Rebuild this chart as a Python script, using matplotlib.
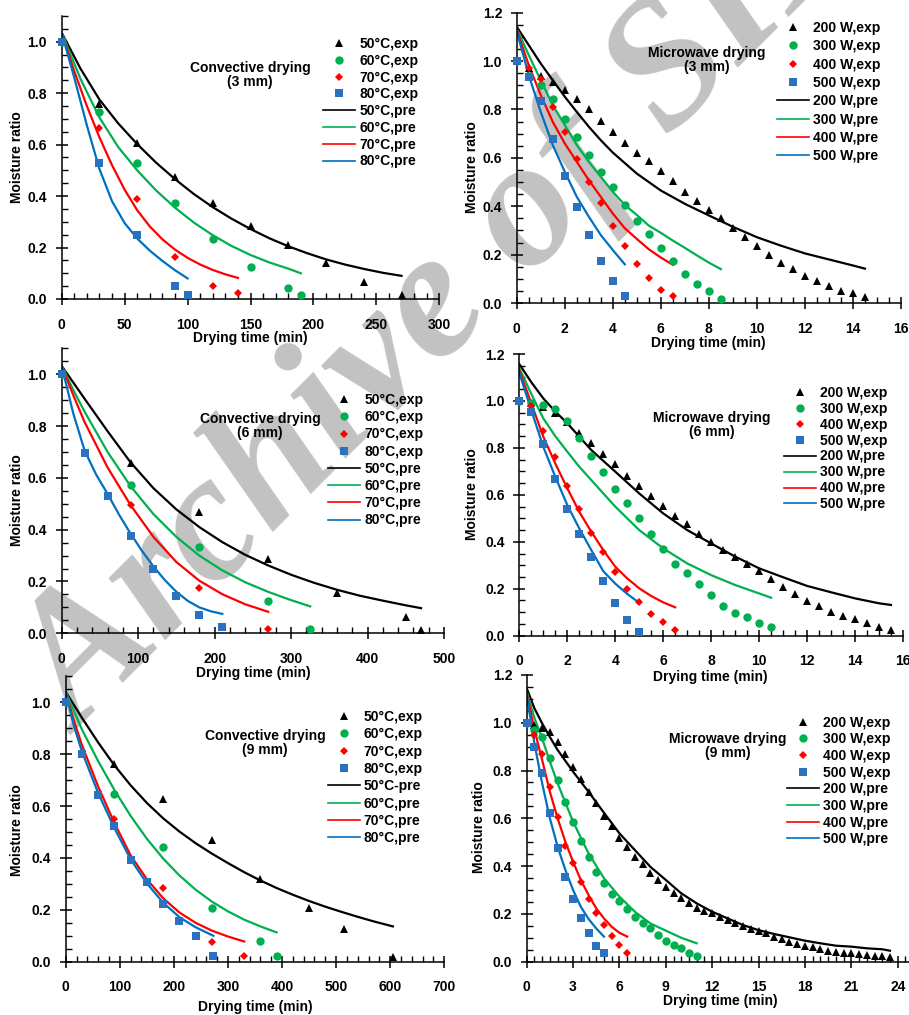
import matplotlib
matplotlib.use("Agg")
import matplotlib.pyplot as plt
from matplotlib.lines import Line2D
from matplotlib.ticker import MultipleLocator, FormatStrFormatter

plt.rcParams['font.family'] = ['Liberation Sans', 'DejaVu Sans']
plt.rcParams['font.weight'] = 'bold'
plt.rcParams['font.size'] = 10

W, H = 909, 1015
BLACK = 'black'
GREEN = '#00b050'
RED = '#ff0000'
BLUE = '#0070c0'
SQ_BLUE = '#2a72c0'

# ---------------- convective drying, 3 mm ----------------
c3_t50 = [0, 30, 60, 90, 120, 150, 180, 210, 240, 270]
c3_e50 = [1.0, 0.757, 0.605, 0.473, 0.373, 0.282, 0.208, 0.14, 0.065, 0.017]
c3_t60 = [0, 30, 60, 90, 120, 150, 180, 190]
c3_e60 = [1.0, 0.726, 0.528, 0.374, 0.233, 0.123, 0.041, 0.016]
c3_t70 = [0, 30, 60, 90, 120, 140]
c3_e70 = [1.0, 0.664, 0.388, 0.162, 0.049, 0.023]
c3_t80 = [0, 30, 60, 90, 100]
c3_e80 = [1.0, 0.53, 0.248, 0.052, 0.016]

c3_pt50 = [0, 15, 30, 45, 60, 75, 90, 105, 120, 135, 150, 165, 180, 195, 210, 225, 240,
           255, 270]
c3_p50 = [1.035, 0.895, 0.775, 0.682, 0.602, 0.53, 0.466, 0.408, 0.357, 0.312, 0.272,
          0.236, 0.205, 0.178, 0.154, 0.134, 0.117, 0.102, 0.09]
c3_pt60 = [0, 15, 30, 45, 60, 75, 90, 105, 120, 135, 150, 165, 180, 190]
c3_p60 = [1.035, 0.855, 0.705, 0.59, 0.50, 0.422, 0.355, 0.297, 0.248, 0.206, 0.171,
          0.142, 0.118, 0.1]
c3_pt70 = [0, 10, 20, 30, 40, 50, 60, 70, 80, 90, 100, 110, 120, 130, 140]
c3_p70 = [1.035, 0.885, 0.75, 0.628, 0.52, 0.425, 0.345, 0.282, 0.232, 0.192, 0.16, 0.134,
          0.113, 0.096, 0.082]
c3_pt80 = [0, 10, 20, 30, 40, 50, 60, 70, 80, 90, 100]
c3_p80 = [1.035, 0.86, 0.675, 0.505, 0.38, 0.295, 0.235, 0.188, 0.148, 0.112, 0.08]

# ---------------- microwave drying, 3 mm ----------------
m3_t200 = [0, 0.5, 1, 1.5, 2, 2.5, 3, 3.5, 4, 4.5, 5, 5.5, 6, 6.5, 7, 7.5, 8, 8.5, 9, 9.5,
           10, 10.5, 11, 11.5, 12, 12.5, 13, 13.5, 14, 14.5]
m3_e200 = [1.0, 0.97, 0.938, 0.914, 0.881, 0.842, 0.801, 0.754, 0.706, 0.663, 0.622, 0.585,
           0.544, 0.505, 0.458, 0.422, 0.385, 0.35, 0.308, 0.271, 0.234, 0.2, 0.165, 0.14,
           0.113, 0.091, 0.072, 0.05, 0.04, 0.023]
m3_t300 = [0, 0.5, 1, 1.5, 2, 2.5, 3, 3.5, 4, 4.5, 5, 5.5, 6, 6.5, 7, 7.5, 8, 8.5]
m3_e300 = [1.0, 0.94, 0.9, 0.842, 0.762, 0.685, 0.612, 0.541, 0.479, 0.407, 0.341, 0.285,
           0.227, 0.172, 0.121, 0.08, 0.048, 0.017]
m3_t400 = [0, 0.5, 1, 1.5, 2, 2.5, 3, 3.5, 4, 4.5, 5, 5.5, 6, 6.5]
m3_e400 = [1.0, 0.97, 0.925, 0.812, 0.705, 0.594, 0.502, 0.413, 0.319, 0.234, 0.161, 0.103,
           0.055, 0.028]
m3_t500 = [0, 0.5, 1, 1.5, 2, 2.5, 3, 3.5, 4, 4.5]
m3_e500 = [1.0, 0.935, 0.833, 0.677, 0.526, 0.396, 0.281, 0.172, 0.089, 0.028]

m3_pt200 = [0, 0.5, 1, 1.5, 2, 2.5, 3, 3.5, 4, 5, 6, 7, 8, 9, 10, 11, 12, 13, 14, 14.5]
m3_p200 = [1.142, 1.066, 0.99, 0.921, 0.853, 0.79, 0.729, 0.673, 0.622, 0.535, 0.465, 0.41,
           0.362, 0.315, 0.272, 0.237, 0.205, 0.18, 0.155, 0.142]
m3_pt300 = [0, 0.5, 1, 1.5, 2, 2.5, 3, 3.5, 4, 4.5, 5, 5.5, 6, 6.5, 7, 7.5, 8, 8.5]
m3_p300 = [1.135, 1.025, 0.921, 0.818, 0.736, 0.653, 0.584, 0.522, 0.46, 0.405, 0.364, 0.32,
           0.29, 0.258, 0.228, 0.197, 0.167, 0.14]
m3_pt400 = [0, 0.5, 1, 1.5, 2, 2.5, 3, 3.5, 4, 4.5, 5, 5.5, 6, 6.5]
m3_p400 = [1.13, 0.983, 0.86, 0.749, 0.66, 0.584, 0.508, 0.439, 0.37, 0.309, 0.265, 0.222,
           0.188, 0.158]
m3_pt500 = [0, 0.5, 1, 1.5, 2, 2.5, 3, 3.5, 4, 4.5]
m3_p500 = [1.124, 0.942, 0.79, 0.653, 0.543, 0.439, 0.357, 0.281, 0.219, 0.16]

# ---------------- convective drying, 6 mm ----------------
c6_t50 = [0, 90, 180, 270, 360, 450, 470]
c6_e50 = [1.0, 0.656, 0.468, 0.288, 0.154, 0.064, 0.013]
c6_t60 = [0, 90, 180, 270, 325]
c6_e60 = [1.0, 0.571, 0.335, 0.124, 0.018]
c6_t70 = [0, 90, 180, 270]
c6_e70 = [1.0, 0.495, 0.173, 0.015]
c6_t80 = [0, 30, 60, 90, 120, 150, 180, 210]
c6_e80 = [1.0, 0.695, 0.531, 0.374, 0.25, 0.144, 0.071, 0.023]

c6_pt50 = [0, 30, 60, 90, 120, 150, 180, 210, 240, 270, 300, 330, 360, 390, 420, 450, 470]
c6_p50 = [1.032, 0.905, 0.78, 0.66, 0.56, 0.478, 0.41, 0.352, 0.303, 0.262, 0.226, 0.195,
          0.168, 0.145, 0.126, 0.108, 0.097]
c6_pt60 = [0, 15, 30, 60, 90, 120, 150, 180, 210, 240, 270, 300, 325]
c6_p60 = [1.032, 0.94, 0.855, 0.70, 0.568, 0.46, 0.372, 0.30, 0.243, 0.197, 0.16, 0.128,
          0.104]
c6_pt70 = [0, 15, 30, 60, 90, 120, 150, 180, 210, 240, 270]
c6_p70 = [1.032, 0.92, 0.815, 0.64, 0.495, 0.372, 0.275, 0.203, 0.151, 0.112, 0.083]
c6_pt80 = [0, 15, 30, 45, 60, 75, 90, 105, 120, 135, 150, 165, 180, 195, 210]
c6_p80 = [1.032, 0.85, 0.705, 0.613, 0.538, 0.458, 0.385, 0.318, 0.258, 0.205, 0.16, 0.125,
          0.1, 0.085, 0.075]

# ---------------- microwave drying, 6 mm ----------------
m6_t200 = [0, 0.5, 1, 1.5, 2, 2.5, 3, 3.5, 4, 4.5, 5, 5.5, 6, 6.5, 7, 7.5, 8, 8.5, 9, 9.5,
           10, 10.5, 11, 11.5, 12, 12.5, 13, 13.5, 14, 14.5, 15, 15.5]
m6_e200 = [1.0, 0.99, 0.976, 0.947, 0.912, 0.865, 0.819, 0.773, 0.73, 0.682, 0.638, 0.595,
           0.554, 0.511, 0.474, 0.433, 0.399, 0.365, 0.337, 0.304, 0.277, 0.24, 0.206, 0.176,
           0.149, 0.128, 0.102, 0.084, 0.07, 0.053, 0.036, 0.024]
m6_t300 = [0, 0.5, 1, 1.5, 2, 2.5, 3, 3.5, 4, 4.5, 5, 5.5, 6, 6.5, 7, 7.5, 8, 8.5, 9, 9.5,
           10, 10.5]
m6_e300 = [1.0, 0.99, 0.981, 0.966, 0.916, 0.844, 0.765, 0.697, 0.625, 0.564, 0.5, 0.433,
           0.369, 0.305, 0.268, 0.219, 0.173, 0.128, 0.098, 0.078, 0.055, 0.038]
m6_t400 = [0, 0.5, 1, 1.5, 2, 2.5, 3, 3.5, 4, 4.5, 5, 5.5, 6, 6.5]
m6_e400 = [1.0, 0.98, 0.872, 0.763, 0.638, 0.54, 0.436, 0.355, 0.27, 0.2, 0.145, 0.091,
           0.057, 0.024]
m6_t500 = [0, 0.5, 1, 1.5, 2, 2.5, 3, 3.5, 4, 4.5, 5]
m6_e500 = [1.0, 0.954, 0.817, 0.666, 0.54, 0.433, 0.337, 0.234, 0.138, 0.067, 0.017]

m6_pt200 = [0, 0.5, 1, 1.5, 2, 3, 4, 5, 6, 7, 8, 9, 10, 11, 12, 13, 14, 15, 15.5]
m6_p200 = [1.157, 1.08, 1.011, 0.955, 0.905, 0.791, 0.699, 0.606, 0.521, 0.45, 0.393, 0.337,
           0.287, 0.249, 0.212, 0.185, 0.159, 0.138, 0.131]
m6_pt300 = [0, 0.5, 1, 1.5, 2, 2.5, 3, 4, 5, 6, 7, 8, 9, 10, 10.5]
m6_p300 = [1.14, 1.03, 0.926, 0.85, 0.784, 0.72, 0.663, 0.55, 0.45, 0.372, 0.308, 0.258,
           0.216, 0.18, 0.162]
m6_pt400 = [0, 0.5, 1, 1.5, 2, 2.5, 3, 3.5, 4, 4.5, 5, 5.5, 6, 6.5]
m6_p400 = [1.13, 0.99, 0.848, 0.734, 0.628, 0.528, 0.443, 0.365, 0.294, 0.244, 0.202, 0.169,
           0.142, 0.121]
m6_pt500 = [0, 0.5, 1, 1.5, 2, 2.5, 3, 3.5, 4, 4.5, 5]
m6_p500 = [1.12, 0.96, 0.805, 0.677, 0.557, 0.457, 0.365, 0.275, 0.222, 0.178, 0.14]

# ---------------- convective drying, 9 mm ----------------
c9_t50 = [0, 90, 180, 270, 360, 450, 515, 605]
c9_e50 = [1.0, 0.761, 0.627, 0.469, 0.319, 0.206, 0.127, 0.019]
c9_t60 = [0, 90, 180, 270, 360, 390]
c9_e60 = [1.0, 0.645, 0.443, 0.208, 0.081, 0.021]
c9_t70 = [0, 90, 180, 270, 330]
c9_e70 = [1.0, 0.55, 0.285, 0.077, 0.021]
c9_t80 = [0, 30, 60, 90, 120, 150, 180, 210, 240, 273]
c9_e80 = [1.0, 0.8, 0.643, 0.523, 0.392, 0.306, 0.221, 0.157, 0.099, 0.021]

c9_pt50 = [0, 30, 60, 90, 120, 150, 180, 210, 240, 270, 300, 330, 360, 390, 420, 450, 480,
           510, 540, 570, 605]
c9_p50 = [1.04, 0.94, 0.845, 0.757, 0.68, 0.612, 0.553, 0.502, 0.457, 0.417, 0.38, 0.345,
          0.313, 0.284, 0.258, 0.234, 0.212, 0.192, 0.173, 0.155, 0.136]
c9_pt60 = [0, 30, 60, 90, 120, 150, 180, 210, 240, 270, 300, 330, 360, 390]
c9_p60 = [1.04, 0.895, 0.773, 0.662, 0.562, 0.474, 0.398, 0.333, 0.278, 0.232, 0.194,
          0.162, 0.136, 0.113]
c9_pt70 = [0, 15, 30, 60, 90, 120, 150, 180, 210, 240, 270, 300, 330]
c9_p70 = [1.04, 0.93, 0.835, 0.675, 0.535, 0.41, 0.318, 0.245, 0.19, 0.15, 0.12, 0.097,
          0.078]
c9_pt80 = [0, 15, 30, 60, 90, 120, 150, 180, 210, 240, 273]
c9_p80 = [1.04, 0.91, 0.81, 0.65, 0.515, 0.395, 0.302, 0.228, 0.172, 0.133, 0.1]

# ---------------- microwave drying, 9 mm ----------------
m9_t200 = [0, 0.5, 1, 1.5, 2, 2.5, 3, 3.5, 4, 4.5, 5, 5.5, 6, 6.5, 7, 7.5, 8, 8.5, 9, 9.5,
           10, 10.5, 11, 11.5, 12, 12.5, 13, 13.5, 14, 14.5, 15, 15.5, 16, 16.5, 17, 17.5,
           18, 18.5, 19, 19.5, 20, 20.5, 21, 21.5, 22, 22.5, 23, 23.5]
m9_e200 = [1.0, 0.99, 0.979, 0.962, 0.920, 0.869, 0.816, 0.764, 0.711, 0.662, 0.609, 0.569,
           0.519, 0.481, 0.439, 0.409, 0.372, 0.342, 0.314, 0.286, 0.265, 0.247, 0.226, 0.212,
           0.202, 0.188, 0.174, 0.163, 0.151, 0.137, 0.130, 0.119, 0.105, 0.093, 0.081, 0.073,
           0.067, 0.063, 0.052, 0.046, 0.042, 0.038, 0.035, 0.031, 0.028, 0.025, 0.024, 0.021]
m9_t300 = [0, 0.5, 1, 1.5, 2, 2.5, 3, 3.5, 4, 4.5, 5, 5.5, 6, 6.5, 7, 7.5, 8, 8.5, 9, 9.5,
           10, 10.5, 11]
m9_e300 = [1.0, 0.97, 0.939, 0.854, 0.76, 0.667, 0.583, 0.505, 0.438, 0.374, 0.328, 0.283,
           0.254, 0.219, 0.188, 0.16, 0.139, 0.112, 0.088, 0.07, 0.056, 0.035, 0.024]
m9_t400 = [0, 0.5, 1, 1.5, 2, 2.5, 3, 3.5, 4, 4.5, 5, 5.5, 6, 6.5]
m9_e400 = [1.0, 0.95, 0.869, 0.729, 0.607, 0.485, 0.411, 0.332, 0.262, 0.202, 0.153, 0.107,
           0.07, 0.035]
m9_t500 = [0, 0.5, 1, 1.5, 2, 2.5, 3, 3.5, 4, 4.5, 5]
m9_e500 = [1.0, 0.9, 0.788, 0.621, 0.477, 0.356, 0.262, 0.181, 0.119, 0.067, 0.035]

m9_pt200 = [0, 0.5, 1, 1.5, 2, 3, 4, 5, 6, 7, 8, 9, 10, 11, 12, 13, 14, 15, 16, 17, 18, 19,
            20, 21, 22, 23, 23.5]
m9_p200 = [1.144, 1.06, 0.997, 0.94, 0.886, 0.795, 0.711, 0.623, 0.537, 0.467, 0.397, 0.342,
           0.286, 0.244, 0.209, 0.181, 0.153, 0.132, 0.116, 0.102, 0.088, 0.077, 0.067, 0.063,
           0.056, 0.052, 0.046]
m9_pt300 = [0, 0.5, 1, 1.5, 2, 3, 4, 5, 6, 7, 8, 9, 10, 11]
m9_p300 = [1.13, 1.02, 0.934, 0.837, 0.746, 0.586, 0.453, 0.349, 0.272, 0.209, 0.16, 0.13,
           0.1, 0.077]
m9_pt400 = [0, 0.5, 1, 1.5, 2, 2.5, 3, 3.5, 4, 4.5, 5, 5.5, 6, 6.5]
m9_p400 = [1.123, 0.97, 0.844, 0.711, 0.6, 0.502, 0.418, 0.342, 0.279, 0.223, 0.181, 0.146,
           0.121, 0.105]
m9_pt500 = [0, 0.5, 1, 1.5, 2, 2.5, 3, 3.5, 4, 4.5, 5]
m9_p500 = [1.116, 0.913, 0.746, 0.6, 0.481, 0.384, 0.3, 0.23, 0.179, 0.139, 0.105]

conv_exp_lab = ['50°C,exp', '60°C,exp', '70°C,exp', '80°C,exp']
conv_pre_lab = ['50°C,pre', '60°C,pre', '70°C,pre', '80°C,pre']
conv_pre_lab9 = ['50°C-pre', '60°C,pre', '70°C,pre', '80°C,pre']
mw_exp_lab = ['200 W,exp', '300 W,exp', '400 W,exp', '500 W,exp']
mw_pre_lab = ['200 W,pre', '300 W,pre', '400 W,pre', '500 W,pre']

markers = ['^', 'o', 'D', 's']
mcolors = [BLACK, GREEN, RED, SQ_BLUE]
msizes = [5.5, 6, 4.5, 5.5]
lcolors = [BLACK, GREEN, RED, BLUE]


def fx(x):
    return x / W


def fy(y):
    return 1 - y / H


fig = plt.figure(figsize=(W / 100, H / 100), dpi=100)

# watermark of the source archive
fig.text(fx(80), fy(735), 'Archive of SID', fontsize=132, color='#c2c2c2',
         family='Liberation Serif', weight='bold', style='italic', rotation=45,
         rotation_mode='anchor', ha='left', va='baseline', zorder=0)


def panel(box, exp, pre, elab, plab, xmax, xmaj, xmin, ymax, title, tpos,
          leg, lspace, xlab, ylab):
    l, r, t, b = box
    ax = fig.add_axes([fx(l), fy(b), fx(r - l), (b - t) / H])
    ax.patch.set_alpha(0)
    ax.set_zorder(1)
    handles = []
    for i, (tt, vv) in enumerate(exp):
        ax.plot(tt, vv, linestyle='none', marker=markers[i], color=mcolors[i],
                markersize=msizes[i], markeredgewidth=0, zorder=3, clip_on=False)
        handles.append(Line2D([], [], linestyle='none', marker=markers[i],
                              color=mcolors[i], markersize=msizes[i],
                              markeredgewidth=0, label=elab[i]))
    for i, (tt, vv) in enumerate(pre):
        ax.plot(tt, vv, color=lcolors[i], lw=1.6, zorder=2)
        handles.append(Line2D([], [], color=lcolors[i], lw=1.2, label=plab[i]))
    ax.set_xlim(0, xmax)
    ax.set_ylim(0, ymax)
    ax.xaxis.set_major_locator(MultipleLocator(xmaj))
    ax.xaxis.set_minor_locator(MultipleLocator(xmin))
    ax.yaxis.set_major_locator(MultipleLocator(0.2))
    ax.yaxis.set_minor_locator(MultipleLocator(0.05))
    ax.yaxis.set_major_formatter(FormatStrFormatter('%.1f'))
    for s in ['top', 'right']:
        ax.spines[s].set_visible(False)
    for s in ['left', 'bottom']:
        ax.spines[s].set_linewidth(1.1)
    ax.tick_params(which='major', direction='inout', length=9, width=1.1,
                   labelsize=10)
    ax.tick_params(which='minor', direction='in', length=4, width=1.0)
    ax.tick_params(axis='x', which='major', pad=9)
    ax.tick_params(axis='y', which='major', pad=6)
    for lb in ax.get_xticklabels() + ax.get_yticklabels():
        lb.set_fontweight('bold')
    fig.text(fx(tpos[0]), fy(tpos[1]), title, ha='center', va='center',
             fontsize=10, weight='bold', linespacing=1.05)
    lg = fig.legend(handles=handles, loc='upper left',
                    bbox_to_anchor=(fx(leg[0]), fy(leg[1])), frameon=False,
                    borderpad=0, borderaxespad=0, handlelength=2.3,
                    handletextpad=0.3, labelspacing=lspace, fontsize=10)
    for tx in lg.get_texts():
        tx.set_fontweight('bold')
    fig.text(fx(xlab[0]), fy(xlab[1]), 'Drying time (min)', ha='center',
             va='center', fontsize=10, weight='bold')
    fig.text(fx(ylab[0]), fy(ylab[1]), 'Moisture ratio', ha='center',
             va='center', rotation=90, fontsize=10, weight='bold')
    return ax


panel((61.7, 439.3, 16, 299),
      [(c3_t50, c3_e50), (c3_t60, c3_e60), (c3_t70, c3_e70), (c3_t80, c3_e80)],
      [(c3_pt50, c3_p50), (c3_pt60, c3_p60), (c3_pt70, c3_p70), (c3_pt80, c3_p80)],
      conv_exp_lab, conv_pre_lab, 300, 50, 10, 1.1,
      'Convective drying\n(3 mm)', (250, 75), (323, 37), 0.2, (250, 338), (17, 157))

panel((516.7, 901, 12.7, 303),
      [(m3_t200, m3_e200), (m3_t300, m3_e300), (m3_t400, m3_e400), (m3_t500, m3_e500)],
      [(m3_pt200, m3_p200), (m3_pt300, m3_p300), (m3_pt400, m3_p400), (m3_pt500, m3_p500)],
      mw_exp_lab, mw_pre_lab, 16, 2, 0.5, 1.2,
      'Microwave drying\n(3 mm)', (707, 60), (776.7, 21), 0.31, (708, 343), (472, 167))

panel((61.7, 444, 348.3, 633.3),
      [(c6_t50, c6_e50), (c6_t60, c6_e60), (c6_t70, c6_e70), (c6_t80, c6_e80)],
      [(c6_pt50, c6_p50), (c6_pt60, c6_p60), (c6_pt70, c6_p70), (c6_pt80, c6_p80)],
      conv_exp_lab, conv_pre_lab, 500, 100, 20, 1.1,
      'Convective drying\n(6 mm)', (260, 426), (328, 393), 0.23, (253, 673), (17, 500))

panel((519.3, 903, 354, 635.7),
      [(m6_t200, m6_e200), (m6_t300, m6_e300), (m6_t400, m6_e400), (m6_t500, m6_e500)],
      [(m6_pt200, m6_p200), (m6_pt300, m6_p300), (m6_pt400, m6_p400), (m6_pt500, m6_p500)],
      mw_exp_lab, mw_pre_lab, 16, 2, 0.5, 1.2,
      'Microwave drying\n(6 mm)', (712, 425), (784, 385.7), 0.14, (710, 677), (472, 494))

panel((65.7, 444.3, 676.3, 961.7),
      [(c9_t50, c9_e50), (c9_t60, c9_e60), (c9_t70, c9_e70), (c9_t80, c9_e80)],
      [(c9_pt50, c9_p50), (c9_pt60, c9_p60), (c9_pt70, c9_p70), (c9_pt80, c9_p80)],
      conv_exp_lab, conv_pre_lab9, 700, 100, 20, 1.1,
      'Convective drying\n(9 mm)', (265, 743), (327.7, 710), 0.24, (255, 1007), (17, 830))

panel((526.7, 526.7 + 25 * 15.458, 674.9, 961.7),
      [(m9_t200, m9_e200), (m9_t300, m9_e300), (m9_t400, m9_e400), (m9_t500, m9_e500)],
      [(m9_pt200, m9_p200), (m9_pt300, m9_p300), (m9_pt400, m9_p400), (m9_pt500, m9_p500)],
      mw_exp_lab, mw_pre_lab, 25, 3, 0.5, 1.2,
      'Microwave drying\n(9 mm)', (728, 746), (787, 715.7), 0.19, (720, 1001), (479, 827))

fig.savefig('out.png', dpi=100)
